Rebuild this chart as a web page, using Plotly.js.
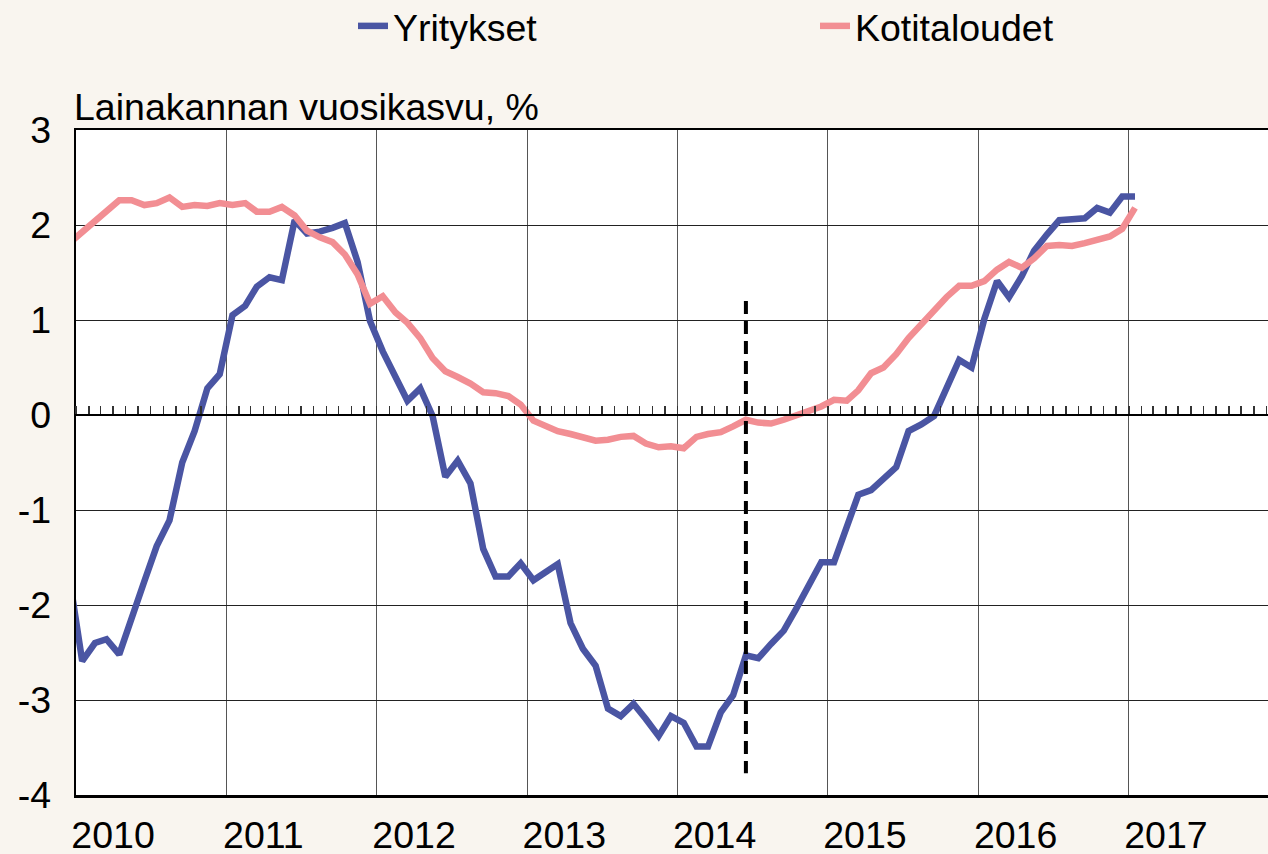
<!DOCTYPE html>
<html>
<head>
<meta charset="utf-8">
<script src="https://cdn.plot.ly/plotly-3.0.1.min.js"></script>
<style>
html,body{margin:0;padding:0;background:#f9f5ef;}
#chart{width:1268px;height:854px;}
</style>
</head>
<body>
<div id="chart"></div>
<script>
// Monthly series, starting December 2009
const startYear = 2009;
const startMonth = 12;

const yritykset = [
  -1.71,
  -2.59, -2.40, -2.36, -2.52, -2.12, -1.75, -1.38, -1.11, -0.50, -0.17, 0.28, 0.43,
  1.05, 1.15, 1.35, 1.45, 1.42, 2.05, 1.91, 1.93, 1.97, 2.02, 1.61, 0.99,
  0.67, 0.42, 0.15, 0.28, -0.01, -0.65, -0.48, -0.72, -1.41, -1.70, -1.70, -1.56,
  -1.74, -1.65, -1.57, -2.19, -2.46, -2.64, -3.09, -3.17, -3.04, -3.20, -3.38, -3.17,
  -3.24, -3.49, -3.49, -3.13, -2.95, -2.53, -2.56, -2.41, -2.27, -2.04, -1.80, -1.55,
  -1.55, -1.15, -0.84, -0.79, -0.67, -0.55, -0.17, -0.10, -0.01, 0.28, 0.58, 0.50,
  1.01, 1.41, 1.24, 1.46, 1.73, 1.90, 2.05, 2.06, 2.07, 2.18, 2.13, 2.30,
  2.30
];

const kotitaloudet = [
  1.81,
  1.93, 2.03, 2.15, 2.26, 2.26, 2.21, 2.23, 2.29, 2.19, 2.21, 2.20, 2.23,
  2.21, 2.23, 2.14, 2.14, 2.19, 2.10, 1.94, 1.87, 1.82, 1.69, 1.48, 1.17,
  1.25, 1.08, 0.97, 0.81, 0.60, 0.46, 0.40, 0.33, 0.24, 0.23, 0.20, 0.11,
  -0.06, -0.11, -0.17, -0.20, -0.24, -0.27, -0.26, -0.23, -0.22, -0.30, -0.34, -0.33,
  -0.35, -0.23, -0.20, -0.18, -0.12, -0.05, -0.08, -0.09, -0.05, 0.00, 0.05, 0.09,
  0.16, 0.15, 0.26, 0.44, 0.50, 0.64, 0.81, 0.96, 1.12, 1.24, 1.36, 1.36,
  1.41, 1.53, 1.61, 1.55, 1.65, 1.78, 1.79, 1.78, 1.81, 1.84, 1.88, 1.96,
  2.18
];

const years = ['2010','2011','2012','2013','2014','2015','2016','2017'];
const yTickVals = [-4, -3, -2, -1, 0, 1, 2, 3];
const yTickText = ['-4', '-3', '-2', '-1', '0', '1', '2', '3'];
const seriesNames = ['Yritykset', 'Kotitaloudet'];
const yTitle = 'Lainakannan vuosikasvu, %';
const markerMonth = '2014-06-16';   // vertical dashed reference line
const markerRange = [1.2, -3.77];

function monthDate(i) {
  const total = (startYear * 12 + (startMonth - 1)) + i;
  const y = Math.floor(total / 12);
  const m = total % 12 + 1;
  return y + '-' + String(m).padStart(2, '0') + '-16';
}
const dates = yritykset.map((_, i) => monthDate(i));

const FONT = 'Arial, "Liberation Sans", sans-serif';
const FS = 37.5;
const BLUE = '#4a55a3';
const PINK = '#f28e93';

const traces = [
  {x: dates, y: yritykset, name: seriesNames[0], type: 'scatter', mode: 'lines',
   line: {color: BLUE, width: 6.5}, legend: 'legend'},
  {x: dates, y: kotitaloudet, name: seriesNames[1], type: 'scatter', mode: 'lines',
   line: {color: PINK, width: 6.5}, legend: 'legend2'},
  // carrier trace for the zero-line axis with monthly ticks
  {x: [dates[0]], y: [null], xaxis: 'x2', yaxis: 'y', showlegend: false,
   hoverinfo: 'skip', mode: 'lines'}
];

const xRange = ['2010-01-01', '2017-12-05'];

const legendY = 1 - 26 / 854;

const layout = {
  width: 1268, height: 854,
  paper_bgcolor: '#f9f5ef',
  plot_bgcolor: '#ffffff',
  margin: {l: 76, r: 0, t: 130, b: 59},
  font: {family: FONT, size: FS, color: '#000'},
  showlegend: true,
  legend: {orientation: 'h', xref: 'container', x: 353 / 1268, xanchor: 'left',
           yref: 'container', y: legendY, yanchor: 'middle',
           bgcolor: 'rgba(0,0,0,0)', font: {family: FONT, size: FS}, borderwidth: 0},
  legend2: {orientation: 'h', xref: 'container', x: 815 / 1268, xanchor: 'left',
            yref: 'container', y: legendY, yanchor: 'middle',
            bgcolor: 'rgba(0,0,0,0)', font: {family: FONT, size: FS}, borderwidth: 0},
  xaxis: {
    type: 'date', range: xRange,
    tickmode: 'array',
    tickvals: years.map(y => y + '-04-01'),
    ticktext: years,
    ticks: '', showgrid: false,
    showline: true, linecolor: '#000', linewidth: 2.5, mirror: true,
    ticklabelstandoff: 5,
    tickfont: {family: FONT, size: FS},
    minor: {tickmode: 'array', tickvals: years.map(y => y + '-01-01'),
            showgrid: true, gridcolor: '#555', gridwidth: 1, ticks: ''},
    zeroline: false, fixedrange: true, automargin: false
  },
  xaxis2: {
    type: 'date', range: xRange, overlaying: 'x', anchor: 'free',
    position: 4 / 7, side: 'top',
    ticks: 'outside', ticklen: 8, tickwidth: 1.5, tickcolor: '#333',
    tick0: '2010-01-01', dtick: 'M1',
    showticklabels: false, showgrid: false,
    showline: true, linecolor: '#000', linewidth: 2, fixedrange: true, automargin: false
  },
  yaxis: {
    range: [-4, 3], tickmode: 'array', tickvals: yTickVals, ticktext: yTickText,
    showgrid: true, gridcolor: '#222', gridwidth: 1,
    zeroline: false,
    showline: true, linecolor: '#000', linewidth: 2.5,
    ticks: '', ticklabelstandoff: 15,
    tickfont: {family: FONT, size: FS},
    fixedrange: true, automargin: false
  },
  shapes: [
    {type: 'line', xref: 'x', yref: 'y', x0: markerMonth, x1: markerMonth,
     y0: markerRange[0], y1: markerRange[1],
     line: {color: '#000', width: 4, dash: '13px,7px'}}
  ],
  annotations: [
    {text: yTitle, xref: 'paper', yref: 'paper', x: 0, y: 1, xanchor: 'left', yanchor: 'bottom',
     showarrow: false, font: {family: FONT, size: FS, color: '#000'}, xshift: -4, yshift: 0}
  ]
};

Plotly.newPlot('chart', traces, layout, {displayModeBar: false, staticPlot: true});
</script>
</body>
</html>
